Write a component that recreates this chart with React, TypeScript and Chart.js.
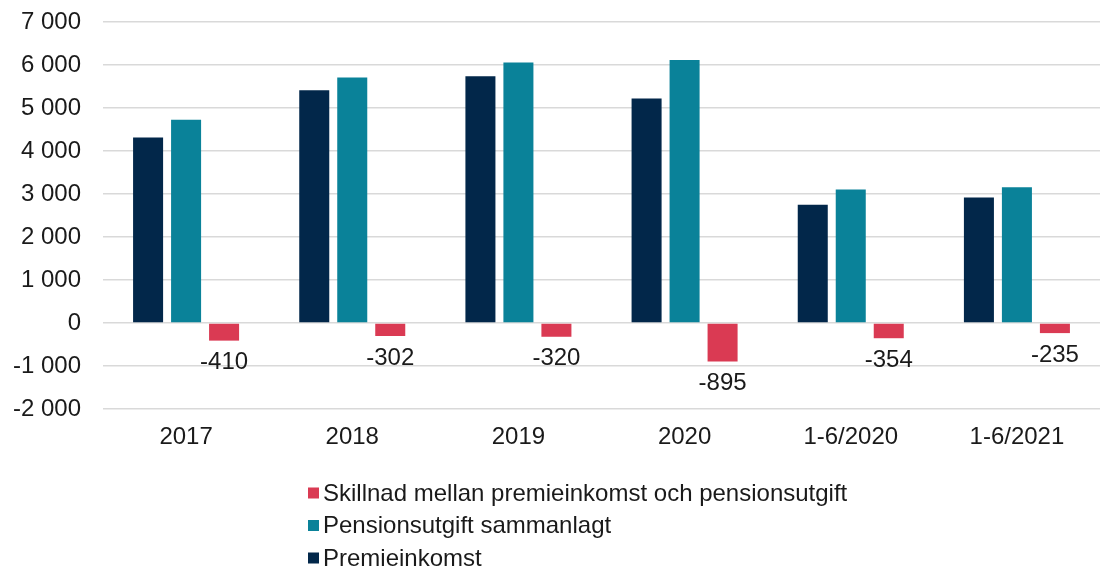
import React, { useEffect, useRef } from "react";
import { Chart, registerables } from "chart.js";

Chart.register(...registerables);

const categories = ["2017", "2018", "2019", "2020", "1-6/2020", "1-6/2021"];
const premieinkomst = [4315, 5410, 5740, 5220, 2750, 2920];
const pensionsutgift = [4725, 5712, 6060, 6115, 3104, 3155];
const skillnad = [-410, -302, -320, -895, -354, -235];
const seriesLabels = [
  "Premieinkomst",
  "Pensionsutgift sammanlagt",
  "Skillnad mellan premieinkomst och pensionsutgift",
];
const seriesColors = ["#02274A", "#0A8299", "#DA3A53"];
const yMin = -2000;
const yMax = 7000;
const yStep = 1000;

const FONT = '"Liberation Sans", Arial, sans-serif';
const FONT_SIZE = 24;
const TEXT = "#1a1a1a";

function fmt(n: number): string {
  const s = Math.abs(n)
    .toString()
    .replace(/\B(?=(\d{3})+(?!\d))/g, " ");
  return (n < 0 ? "-" : "") + s;
}

const diffLabelPlugin = {
  id: "diffLabels",
  afterDatasetsDraw(chart: any) {
    const ctx = chart.ctx;
    const meta = chart.getDatasetMeta(2);
    ctx.save();
    ctx.font = `${FONT_SIZE}px ${FONT}`;
    ctx.fillStyle = TEXT;
    ctx.textAlign = "center";
    ctx.textBaseline = "middle";
    meta.data.forEach((el: any, i: number) => {
      const v = chart.data.datasets[2].data[i];
      ctx.fillText(fmt(v), el.x, el.y + 22);
    });
    ctx.restore();
  },
};

const customLegendPlugin = {
  id: "customLegend",
  afterDraw(chart: any) {
    const ctx = chart.ctx;
    const order = [2, 1, 0];
    const left = 308;
    const top = 493;
    const gap = 32.5;
    const box = 11;
    ctx.save();
    ctx.font = `${FONT_SIZE}px ${FONT}`;
    ctx.textBaseline = "middle";
    ctx.textAlign = "left";
    order.forEach((di, row) => {
      const ds = chart.data.datasets[di];
      const cy = top + row * gap;
      ctx.fillStyle = ds.backgroundColor;
      ctx.fillRect(left, cy - box / 2, box, box);
      ctx.fillStyle = TEXT;
      ctx.fillText(ds.label, left + box + 4, cy + 1);
    });
    ctx.restore();
  },
};

export default function App() {
  const canvasRef = useRef<HTMLCanvasElement | null>(null);

  useEffect(() => {
    if (!canvasRef.current) return;
    const data = [premieinkomst, pensionsutgift, skillnad];
    const chart = new Chart(canvasRef.current, {
      type: "bar",
      data: {
        labels: categories,
        datasets: data.map((d, i) => ({
          label: seriesLabels[i],
          data: d,
          backgroundColor: seriesColors[i],
          borderWidth: 0,
          categoryPercentage: 0.686,
          barPercentage: 0.79,
        })),
      },
      options: {
        responsive: false,
        animation: false,
        layout: { padding: { left: 10, right: 15, top: 22, bottom: 101 } },
        plugins: {
          legend: { display: false },
          tooltip: { enabled: false },
        },
        scales: {
          x: {
            grid: { display: false, drawTicks: false },
            border: { display: false },
            ticks: {
              color: TEXT,
              font: { family: FONT, size: FONT_SIZE },
              padding: 14,
              maxRotation: 0,
            },
            afterFit: (scale: any) => {
              scale.height = 60;
              scale.paddingLeft = 0;
              scale.paddingRight = 0;
            },
          },
          y: {
            min: yMin,
            max: yMax,
            grid: {
              color: "#d9d9d9",
              lineWidth: 1.5,
              drawTicks: false,
            },
            border: { display: false },
            ticks: {
              stepSize: yStep,
              color: TEXT,
              font: { family: FONT, size: FONT_SIZE },
              padding: 22,
              callback: (v: any) => fmt(Number(v)),
            },
            afterFit: (scale: any) => {
              scale.width = 93;
              scale.paddingTop = 0;
              scale.paddingBottom = 0;
            },
          },
        },
      },
      plugins: [diffLabelPlugin, customLegendPlugin],
    });
    return () => chart.destroy();
  }, []);

  return (
    <div
      style={{
        position: "fixed",
        left: 0,
        top: 0,
        width: 1115,
        height: 570,
        background: "#fff",
      }}
    >
      <canvas
        ref={canvasRef}
        width={1115}
        height={570}
        style={{ width: 1115, height: 570, display: "block" }}
      />
    </div>
  );
}
